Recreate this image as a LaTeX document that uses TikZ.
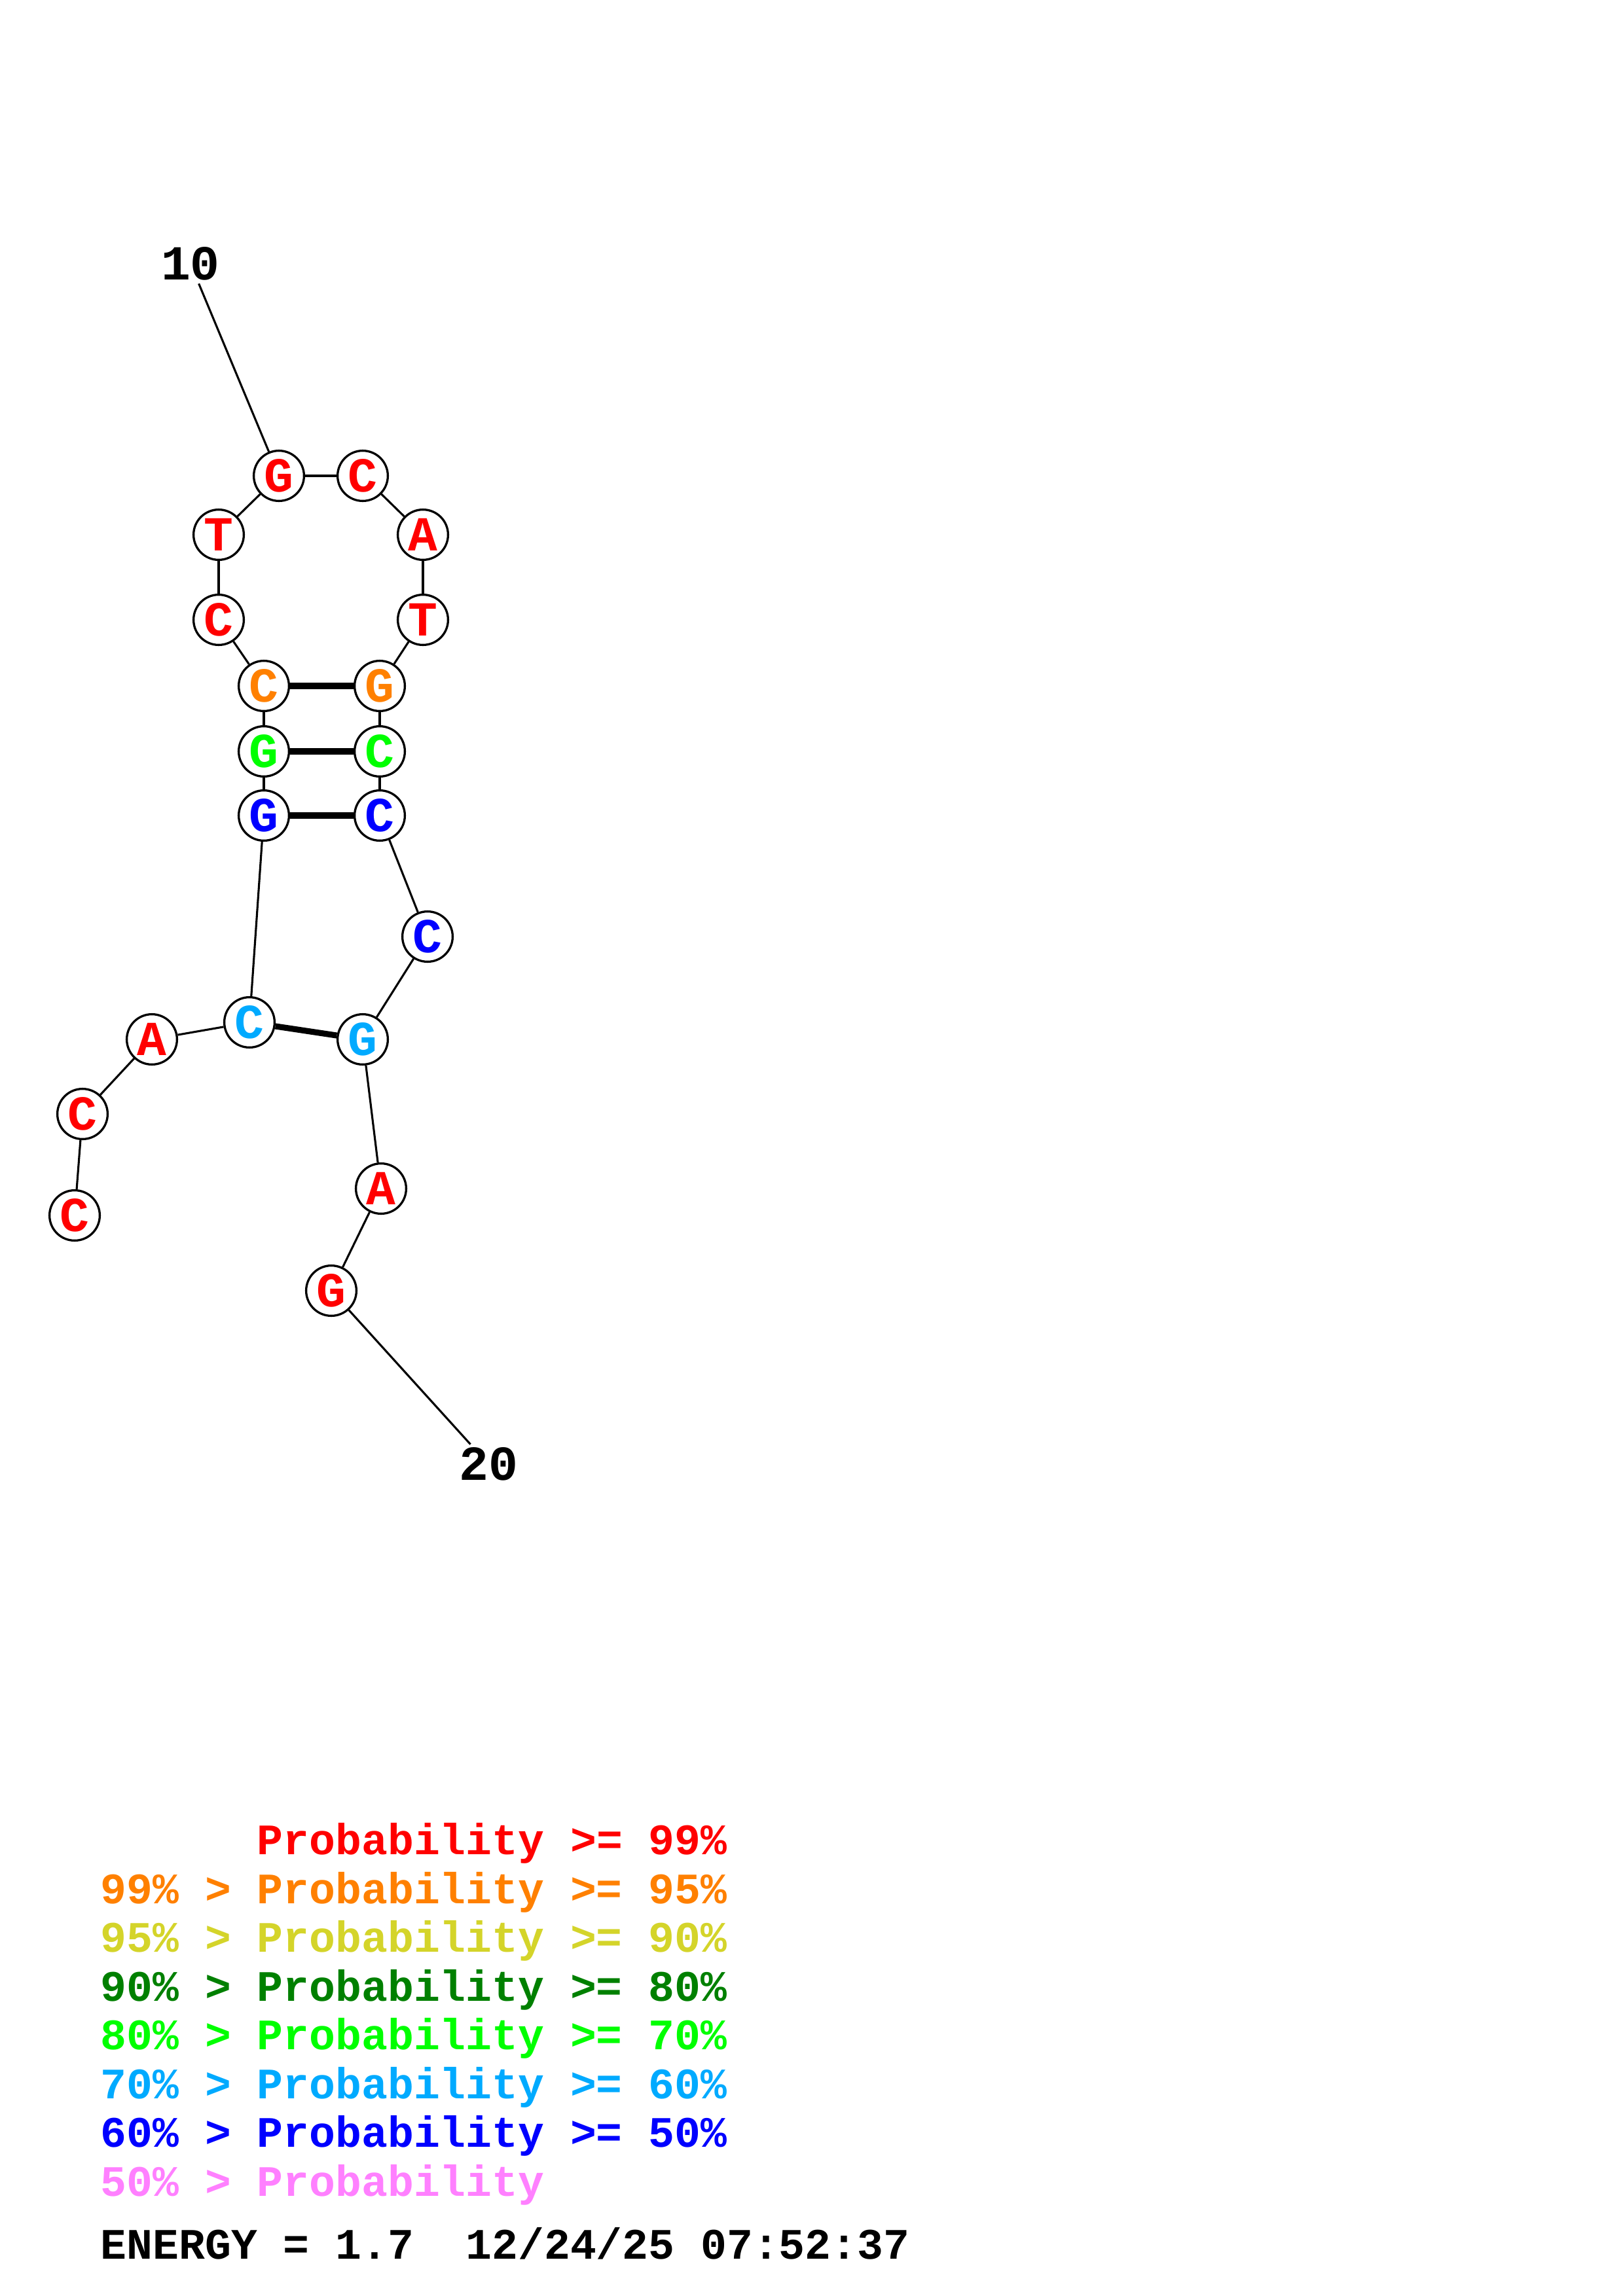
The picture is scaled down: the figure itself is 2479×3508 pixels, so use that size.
\documentclass[tikz,border=0pt]{standalone}
\usepackage{fontspec}
\setmonofont{Liberation Mono}
\usepackage{tikz}
\usetikzlibrary{positioning}

\definecolor{pnine}{RGB}{255,0,0}
\definecolor{pfive}{RGB}{255,128,0}
\definecolor{pninety}{RGB}{212,212,42}
\definecolor{peighty}{RGB}{0,128,0}
\definecolor{pseventy}{RGB}{0,255,0}
\definecolor{psixty}{RGB}{0,170,255}
\definecolor{pfifty}{RGB}{0,0,255}
\definecolor{plow}{RGB}{255,128,255}

\begin{document}
\begin{tikzpicture}[x=0.08467mm, y=-0.08467mm,
    base/.style={circle, draw, fill=white, line width=0.8pt, minimum size=6.5mm, inner sep=0pt,
        font=\ttfamily\bfseries\fontsize{18}{18}\selectfont},
    backbone/.style={line width=0.75pt},
    pair/.style={line width=2.2pt},
    numlabel/.style={inner sep=1pt, font=\ttfamily\bfseries\fontsize{18}{18}\selectfont},
    legend/.style={anchor=base west, inner sep=0pt, font=\ttfamily\bfseries\fontsize{16}{16}\selectfont}]

    \useasboundingbox (0,0) rectangle (2479,3508);

    % bases 1..20
    \node[base, text=pnine] (n1) at (114,1857) {C};
    \node[base, text=pnine] (n2) at (126,1702) {C};
    \node[base, text=pnine] (n3) at (232,1588) {A};
    \node[base, text=psixty] (n4) at (381,1562) {C};
    \node[base, text=pfifty] (n5) at (403,1246) {G};
    \node[base, text=pseventy] (n6) at (403,1148) {G};
    \node[base, text=pfive] (n7) at (403,1048) {C};
    \node[base, text=pnine] (n8) at (334,947) {C};
    \node[base, text=pnine] (n9) at (334,817) {T};
    \node[base, text=pnine] (n10) at (426,727) {G};
    \node[base, text=pnine] (n11) at (554,727) {C};
    \node[base, text=pnine] (n12) at (646,817) {A};
    \node[base, text=pnine] (n13) at (646,947) {T};
    \node[base, text=pfive] (n14) at (580,1048) {G};
    \node[base, text=pseventy] (n15) at (580,1148) {C};
    \node[base, text=pfifty] (n16) at (580,1246) {C};
    \node[base, text=pfifty] (n17) at (653,1431) {C};
    \node[base, text=psixty] (n18) at (554,1588) {G};
    \node[base, text=pnine] (n19) at (582,1816) {A};
    \node[base, text=pnine] (n20) at (506,1972) {G};

    \foreach \i [evaluate=\i as \j using int(\i+1)] in {1,...,19}
        \draw[backbone] (n\i) -- (n\j);

    % base pairs
    \draw[pair] (n4) -- (n18);
    \draw[pair] (n5) -- (n16);
    \draw[pair] (n6) -- (n15);
    \draw[pair] (n7) -- (n14);

    % numbering
    \node[numlabel] (lab10) at (291,403) {10};
    \node[numlabel] (lab20) at (746,2237) {20};
    \draw[backbone] (lab10) -- (n10);
    \draw[backbone] (n20) -- (lab20);

    % legend
    \node[legend, text=pnine] (leg1) at (153,2833) {\hphantom{99\% > }Probability >= 99\%};
    \node[legend, text=pfive] (leg2) at (153,2908) {99\% > Probability >= 95\%};
    \node[legend, text=pninety] (leg3) at (153,2982) {95\% > Probability >= 90\%};
    \node[legend, text=peighty] (leg4) at (153,3057) {90\% > Probability >= 80\%};
    \node[legend, text=pseventy] (leg5) at (153,3131) {80\% > Probability >= 70\%};
    \node[legend, text=psixty] (leg6) at (153,3206) {70\% > Probability >= 60\%};
    \node[legend, text=pfifty] (leg7) at (153,3280) {60\% > Probability >= 50\%};
    \node[legend, text=plow] (leg8) at (153,3355) {50\% > Probability};
    \node[legend] (energy) at (153,3451) {ENERGY = 1.7\ \ 12/24/25 07:52:37};

\end{tikzpicture}
\end{document}
